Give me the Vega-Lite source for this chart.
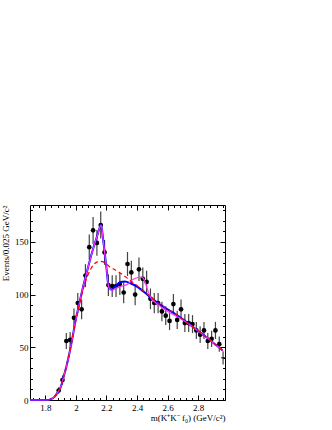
{
  "$schema": "https://vega.github.io/schema/vega-lite/v6.json",
  "autosize": "none",
  "width": 195,
  "height": 195,
  "padding": {"left": 30, "top": 205, "right": 107, "bottom": 30},
  "background": "white",
  "config": {
    "view": {"stroke": "black", "strokeWidth": 1},
    "font": "Liberation Serif",
    "axis": {"labelFont": "Liberation Serif", "titleFont": "Liberation Serif", "labelColor": "black", "titleColor": "black", "tickColor": "black", "domain": false, "grid": false, "labelFontSize": 9, "titleFontSize": 9, "titleFontWeight": "normal"}
  },
  "datasets": {
    "pts": [
      {"m": 1.8875, "lo": 6, "hi": 12},
      {"m": 1.9125, "lo": 14.6, "hi": 23.4},
      {"m": 1.9375, "lo": 48.5, "hi": 63.5},
      {"m": 1.9625, "lo": 49.5, "hi": 64.5},
      {"m": 1.9875, "lo": 69.2, "hi": 86.8},
      {"m": 2.0125, "lo": 82.4, "hi": 101.6},
      {"m": 2.0375, "lo": 76.7, "hi": 95.3},
      {"m": 2.0625, "lo": 107.1, "hi": 128.9},
      {"m": 2.0875, "lo": 133, "hi": 157},
      {"m": 2.1125, "lo": 148.3, "hi": 173.7},
      {"m": 2.1375, "lo": 136.8, "hi": 161.2},
      {"m": 2.1625, "lo": 153.1, "hi": 178.9},
      {"m": 2.1875, "lo": 128.2, "hi": 151.8},
      {"m": 2.2125, "lo": 98.6, "hi": 119.4},
      {"m": 2.2375, "lo": 97.6, "hi": 118.4},
      {"m": 2.2625, "lo": 97.6, "hi": 118.4},
      {"m": 2.2875, "lo": 99.5, "hi": 120.5},
      {"m": 2.3125, "lo": 91.9, "hi": 112.1},
      {"m": 2.3375, "lo": 117.6, "hi": 140.4},
      {"m": 2.3625, "lo": 110, "hi": 132},
      {"m": 2.3875, "lo": 90, "hi": 110},
      {"m": 2.4125, "lo": 112.9, "hi": 135.1},
      {"m": 2.4375, "lo": 104.3, "hi": 125.7},
      {"m": 2.4625, "lo": 101.4, "hi": 122.6},
      {"m": 2.4875, "lo": 86.2, "hi": 105.8},
      {"m": 2.5125, "lo": 82.4, "hi": 101.6},
      {"m": 2.5375, "lo": 82.4, "hi": 101.6},
      {"m": 2.5625, "lo": 74.8, "hi": 93.2},
      {"m": 2.5875, "lo": 71.1, "hi": 88.9},
      {"m": 2.6125, "lo": 66.3, "hi": 83.7},
      {"m": 2.6375, "lo": 81.5, "hi": 100.5},
      {"m": 2.6625, "lo": 67.3, "hi": 84.7},
      {"m": 2.6875, "lo": 76.7, "hi": 95.3},
      {"m": 2.7125, "lo": 64.5, "hi": 81.5},
      {"m": 2.7375, "lo": 64.5, "hi": 81.5},
      {"m": 2.7625, "lo": 63.5, "hi": 80.5},
      {"m": 2.7875, "lo": 57.9, "hi": 74.1},
      {"m": 2.8125, "lo": 54.1, "hi": 69.9},
      {"m": 2.8375, "lo": 57.9, "hi": 74.1},
      {"m": 2.8625, "lo": 48.5, "hi": 63.5},
      {"m": 2.8875, "lo": 50.4, "hi": 65.6},
      {"m": 2.9125, "lo": 57.9, "hi": 74.1},
      {"m": 2.9375, "lo": 45.7, "hi": 60.3},
      {"m": 2.9625, "lo": 33.7, "hi": 46.3}
    ],
    "dots": [
      {"m": 1.8875, "n": 9}, {"m": 1.9125, "n": 19}, {"m": 1.9375, "n": 56}, {"m": 1.9625, "n": 57},
      {"m": 1.9875, "n": 78}, {"m": 2.0125, "n": 92}, {"m": 2.0375, "n": 86}, {"m": 2.0625, "n": 118},
      {"m": 2.0875, "n": 145}, {"m": 2.1125, "n": 161}, {"m": 2.1375, "n": 149}, {"m": 2.1625, "n": 166},
      {"m": 2.1875, "n": 140}, {"m": 2.2125, "n": 109}, {"m": 2.2375, "n": 108}, {"m": 2.2625, "n": 108},
      {"m": 2.2875, "n": 110}, {"m": 2.3125, "n": 102}, {"m": 2.3375, "n": 129}, {"m": 2.3625, "n": 121},
      {"m": 2.3875, "n": 100}, {"m": 2.4125, "n": 124}, {"m": 2.4375, "n": 115}, {"m": 2.4625, "n": 112},
      {"m": 2.4875, "n": 96}, {"m": 2.5125, "n": 92}, {"m": 2.5375, "n": 92}, {"m": 2.5625, "n": 84},
      {"m": 2.5875, "n": 80}, {"m": 2.6125, "n": 75}, {"m": 2.6375, "n": 91}, {"m": 2.6625, "n": 76},
      {"m": 2.6875, "n": 86}, {"m": 2.7125, "n": 73}, {"m": 2.7375, "n": 73}, {"m": 2.7625, "n": 72},
      {"m": 2.7875, "n": 66}, {"m": 2.8125, "n": 62}, {"m": 2.8375, "n": 66}, {"m": 2.8625, "n": 56},
      {"m": 2.8875, "n": 58}, {"m": 2.9125, "n": 66}, {"m": 2.9375, "n": 53}
    ],
    "last": [{"m1": 2.95, "m2": 2.975, "n": 40}],
    "blue": [
      {"m": 1.70, "y": 0}, {"m": 1.82, "y": 0}, {"m": 1.84, "y": 1}, {"m": 1.86, "y": 3}, {"m": 1.88, "y": 7},
      {"m": 1.90, "y": 12}, {"m": 1.92, "y": 22}, {"m": 1.94, "y": 33}, {"m": 1.96, "y": 46}, {"m": 1.98, "y": 61},
      {"m": 2.00, "y": 77}, {"m": 2.02, "y": 90}, {"m": 2.04, "y": 103}, {"m": 2.06, "y": 115}, {"m": 2.08, "y": 126},
      {"m": 2.10, "y": 137}, {"m": 2.12, "y": 147}, {"m": 2.14, "y": 156}, {"m": 2.16, "y": 165}, {"m": 2.165, "y": 166},
      {"m": 2.18, "y": 150}, {"m": 2.20, "y": 125}, {"m": 2.215, "y": 107}, {"m": 2.235, "y": 104.5}, {"m": 2.26, "y": 108},
      {"m": 2.29, "y": 112}, {"m": 2.32, "y": 112.5}, {"m": 2.36, "y": 110.5}, {"m": 2.40, "y": 107.5}, {"m": 2.45, "y": 102},
      {"m": 2.50, "y": 96}, {"m": 2.55, "y": 90.5}, {"m": 2.60, "y": 86}, {"m": 2.65, "y": 81.5}, {"m": 2.70, "y": 76.5},
      {"m": 2.75, "y": 71}, {"m": 2.80, "y": 65.5}, {"m": 2.85, "y": 60}, {"m": 2.90, "y": 54}, {"m": 2.96, "y": 47}
    ],
    "magenta": [
      {"m": 1.70, "y": 0}, {"m": 1.82, "y": 0}, {"m": 1.84, "y": 1}, {"m": 1.86, "y": 3}, {"m": 1.88, "y": 7},
      {"m": 1.90, "y": 12}, {"m": 1.92, "y": 22}, {"m": 1.94, "y": 33}, {"m": 1.96, "y": 46}, {"m": 1.98, "y": 61},
      {"m": 2.00, "y": 77}, {"m": 2.02, "y": 90}, {"m": 2.04, "y": 103}, {"m": 2.06, "y": 115}, {"m": 2.08, "y": 126},
      {"m": 2.10, "y": 137}, {"m": 2.12, "y": 147}, {"m": 2.14, "y": 156}, {"m": 2.16, "y": 165}, {"m": 2.165, "y": 166},
      {"m": 2.18, "y": 150}, {"m": 2.20, "y": 125}, {"m": 2.215, "y": 107}, {"m": 2.235, "y": 104}, {"m": 2.26, "y": 106},
      {"m": 2.30, "y": 108}, {"m": 2.34, "y": 110}, {"m": 2.37, "y": 114}, {"m": 2.40, "y": 116}, {"m": 2.43, "y": 116.5},
      {"m": 2.45, "y": 113}, {"m": 2.47, "y": 104}, {"m": 2.49, "y": 97}, {"m": 2.52, "y": 92.5}, {"m": 2.56, "y": 88},
      {"m": 2.60, "y": 84}, {"m": 2.65, "y": 80}, {"m": 2.70, "y": 76}, {"m": 2.75, "y": 71}, {"m": 2.80, "y": 65.5},
      {"m": 2.85, "y": 60}, {"m": 2.90, "y": 54}, {"m": 2.96, "y": 47}
    ],
    "red": [
      {"m": 1.82, "y": 0}, {"m": 1.84, "y": 1}, {"m": 1.86, "y": 3}, {"m": 1.88, "y": 7},
      {"m": 1.90, "y": 12}, {"m": 1.92, "y": 22}, {"m": 1.94, "y": 33}, {"m": 1.96, "y": 46}, {"m": 1.98, "y": 61},
      {"m": 2.00, "y": 76}, {"m": 2.02, "y": 89}, {"m": 2.04, "y": 101}, {"m": 2.06, "y": 111}, {"m": 2.08, "y": 119},
      {"m": 2.10, "y": 125}, {"m": 2.12, "y": 129}, {"m": 2.14, "y": 131}, {"m": 2.16, "y": 131.5}, {"m": 2.18, "y": 131},
      {"m": 2.20, "y": 129}, {"m": 2.22, "y": 126.5}, {"m": 2.25, "y": 124}, {"m": 2.30, "y": 119.5}, {"m": 2.35, "y": 114},
      {"m": 2.40, "y": 108.5}, {"m": 2.45, "y": 102.5}, {"m": 2.50, "y": 96.5}, {"m": 2.55, "y": 90.5}, {"m": 2.60, "y": 86},
      {"m": 2.65, "y": 81.5}, {"m": 2.70, "y": 76.5}, {"m": 2.75, "y": 71}, {"m": 2.80, "y": 65.5}, {"m": 2.85, "y": 60},
      {"m": 2.90, "y": 54}, {"m": 2.96, "y": 47}
    ]
  },
  "resolve": {"axis": {"x": "independent", "y": "independent"}},
  "layer": [
    {
      "data": {"name": "pts"},
      "mark": {"type": "rule", "color": "#444444", "strokeWidth": 1.2},
      "encoding": {
        "x": {"field": "m", "type": "quantitative", "scale": {"domain": [1.7, 2.975], "nice": false, "zero": false},
          "axis": {"orient": "bottom", "values": [1.8, 2, 2.2, 2.4, 2.6, 2.8], "tickSize": -5, "labelPadding": 8, "labelExpr": "datum.value == 2 ? '2' : format(datum.value, '.1f')",
            "title": "m(K⁺K⁻ f₀) (GeV/c²)", "titleAnchor": "end", "titlePadding": 1}},
        "y": {"field": "lo", "type": "quantitative", "scale": {"domain": [0, 185], "nice": false},
          "axis": {"orient": "left", "values": [0, 50, 100, 150], "tickSize": -5, "labelPadding": 7,
            "title": "Events/0.025 GeV/c²", "titleAnchor": "end", "titlePadding": 4}},
        "y2": {"field": "hi"}
      }
    },
    {
      "data": {"name": "dots"},
      "mark": {"type": "circle", "color": "black", "opacity": 1, "size": 22},
      "encoding": {
        "x": {"field": "m", "type": "quantitative", "scale": {"domain": [1.7, 2.975], "nice": false, "zero": false},
          "axis": {"orient": "top", "values": [1.8, 2, 2.2, 2.4, 2.6, 2.8], "tickSize": -5, "labels": false, "title": null}},
        "y": {"field": "n", "type": "quantitative", "scale": {"domain": [0, 185], "nice": false},
          "axis": {"orient": "right", "values": [0, 50, 100, 150], "tickSize": -5, "labels": false, "title": null}}
      }
    },
    {
      "data": {"name": "blue"},
      "mark": {"type": "line", "color": "#0000ff", "strokeWidth": 2, "interpolate": "monotone"},
      "encoding": {
        "x": {"field": "m", "type": "quantitative", "scale": {"domain": [1.7, 2.975], "nice": false, "zero": false},
          "axis": {"orient": "bottom", "values": [1.72, 1.76, 1.84, 1.88, 1.92, 1.96, 2.04, 2.08, 2.12, 2.16, 2.24, 2.28, 2.32, 2.36, 2.44, 2.48, 2.52, 2.56, 2.64, 2.68, 2.72, 2.76, 2.84, 2.88, 2.92, 2.96], "tickSize": -2.5, "labels": false, "title": null}},
        "y": {"field": "y", "type": "quantitative", "scale": {"domain": [0, 185], "nice": false},
          "axis": {"orient": "left", "values": [10, 20, 30, 40, 60, 70, 80, 90, 110, 120, 130, 140, 160, 170, 180], "tickSize": -2.5, "labels": false, "title": null}}
      }
    },
    {
      "data": {"name": "magenta"},
      "mark": {"type": "line", "color": "#ff33ff", "strokeWidth": 1.2, "interpolate": "monotone"},
      "encoding": {
        "x": {"field": "m", "type": "quantitative", "scale": {"domain": [1.7, 2.975], "nice": false, "zero": false},
          "axis": {"orient": "top", "values": [1.72, 1.76, 1.84, 1.88, 1.92, 1.96, 2.04, 2.08, 2.12, 2.16, 2.24, 2.28, 2.32, 2.36, 2.44, 2.48, 2.52, 2.56, 2.64, 2.68, 2.72, 2.76, 2.84, 2.88, 2.92, 2.96], "tickSize": -2.5, "labels": false, "title": null}},
        "y": {"field": "y", "type": "quantitative", "scale": {"domain": [0, 185], "nice": false},
          "axis": {"orient": "right", "values": [10, 20, 30, 40, 60, 70, 80, 90, 110, 120, 130, 140, 160, 170, 180], "tickSize": -2.5, "labels": false, "title": null}}
      }
    },
    {
      "data": {"name": "red"},
      "mark": {"type": "line", "color": "#ff0000", "strokeWidth": 1.2, "strokeDash": [4, 3], "interpolate": "monotone"},
      "encoding": {
        "x": {"field": "m", "type": "quantitative", "scale": {"domain": [1.7, 2.975], "nice": false, "zero": false}, "axis": null},
        "y": {"field": "y", "type": "quantitative", "scale": {"domain": [0, 185], "nice": false}, "axis": null}
      }
    },
    {
      "data": {"name": "last"},
      "mark": {"type": "rule", "color": "black", "strokeWidth": 1},
      "encoding": {
        "x": {"field": "m1", "type": "quantitative", "scale": {"domain": [1.7, 2.975], "nice": false, "zero": false}, "axis": null},
        "x2": {"field": "m2"},
        "y": {"field": "n", "type": "quantitative", "scale": {"domain": [0, 185], "nice": false}, "axis": null}
      }
    }
  ]
}
